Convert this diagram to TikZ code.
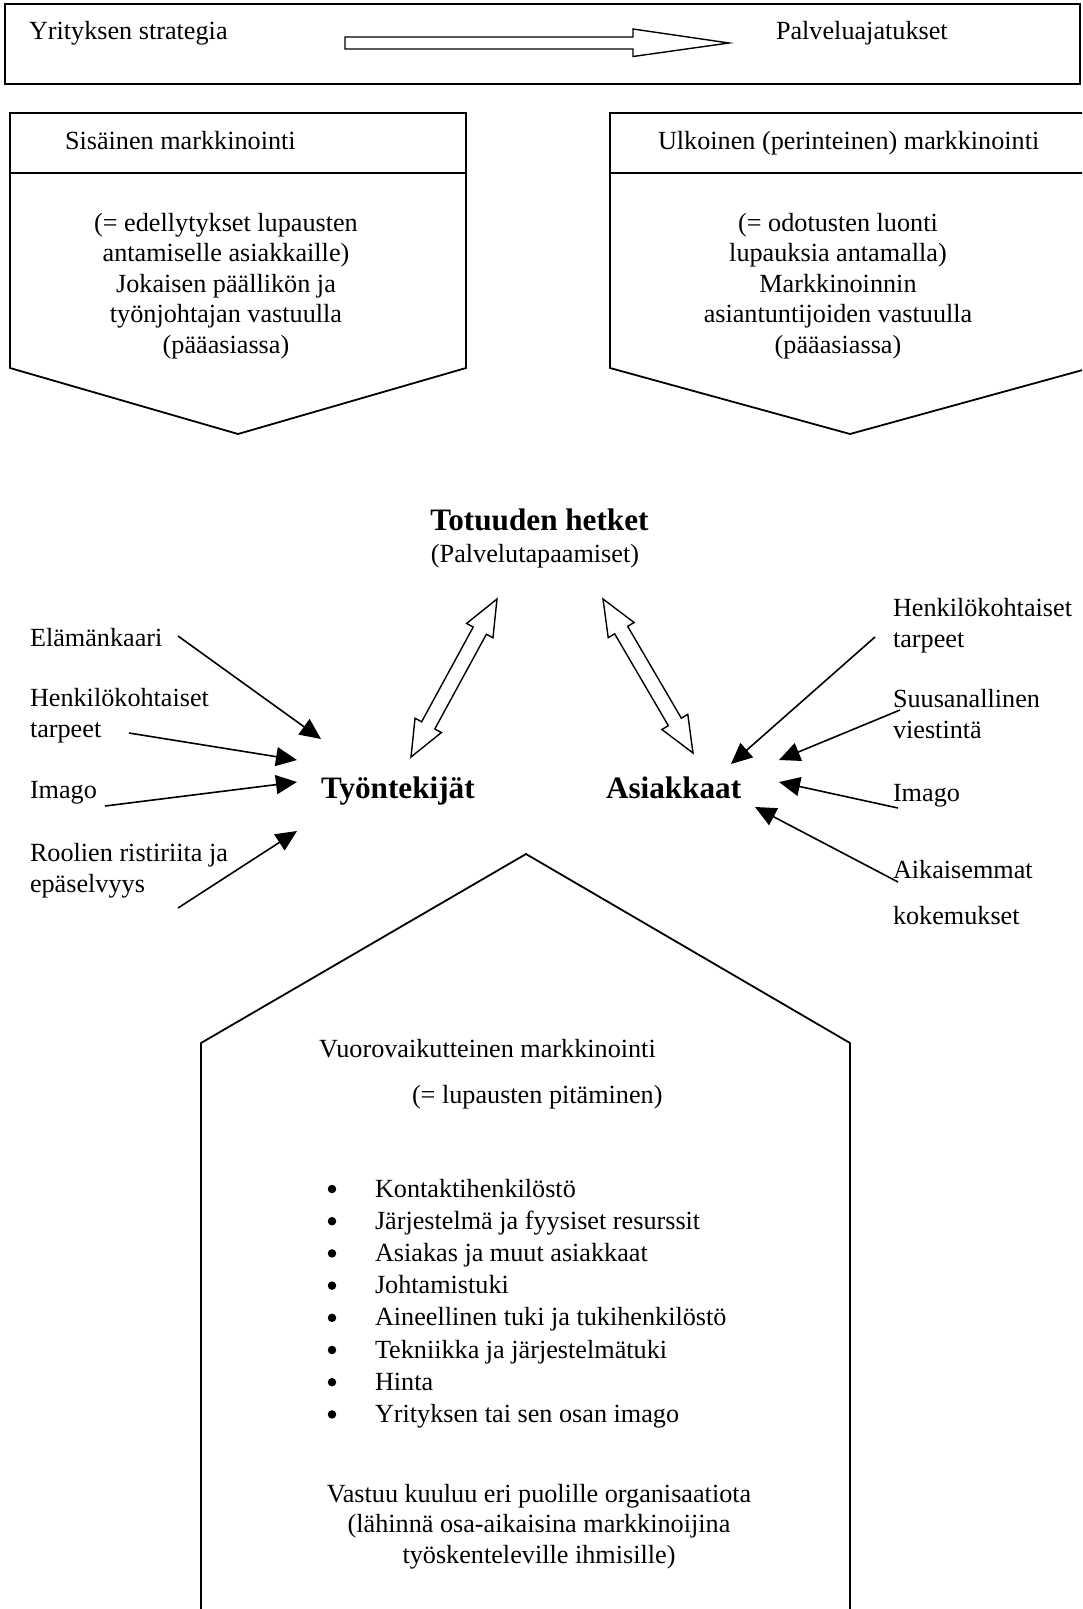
\documentclass[tikz,border=0pt]{standalone}
\usepackage{fontspec}
\setmainfont{Liberation Serif}
\usetikzlibrary{calc,arrows.meta}
\newcommand\txtfont{\fontsize{26.2}{30.5}\selectfont}
\newcommand\bldfont{\fontsize{31.2}{36}\selectfont\bfseries}
\newcommand\dblarr[2]{%
  \draw[hollow] (#1)
  -- ($(#1)!36pt!(#2)!15pt!90:(#2)$)
  -- ($(#1)!36pt!(#2)!7.5pt!90:(#2)$)
  -- ($(#2)!36pt!(#1)!7.5pt!-90:(#1)$)
  -- ($(#2)!36pt!(#1)!15pt!-90:(#1)$)
  -- (#2)
  -- ($(#2)!36pt!(#1)!15pt!90:(#1)$)
  -- ($(#2)!36pt!(#1)!7.5pt!90:(#1)$)
  -- ($(#1)!36pt!(#2)!7.5pt!-90:(#2)$)
  -- ($(#1)!36pt!(#2)!15pt!-90:(#2)$)
  -- cycle;}
\begin{document}
\begin{tikzpicture}[x=1pt,y=-1pt,line join=miter,
  every node/.style={font=\txtfont,inner sep=0pt,outer sep=0pt},
  lbl/.style={anchor=base west},
  ctr/.style={anchor=base,align=center},
  boxline/.style={line width=1.8pt},
  arr/.style={line width=1.6pt,-{Triangle[length=21pt,width=19pt]}},
  hollow/.style={line width=1.4pt,fill=white},
  bulletdot/.style={circle,fill=black,minimum size=8.5pt}]
\clip (0,0) rectangle (1082,1609);
\fill[white] (0,0) rectangle (1082,1609);

% top box
\draw[boxline] (5,4) rectangle (1080,84);
\node[lbl] (strat) at (29,39) {Yrityksen strategia};
\node[lbl] (palv) at (776,39) {Palveluajatukset};
\coordinate (ta) at (345,43);
\coordinate (tb) at (729,43);
\draw[hollow] ($(ta)+(0,-6)$) -- ($(tb)+(-96,-6)$) -- ($(tb)+(-96,-14)$) -- (tb)
  -- ($(tb)+(-96,13.5)$) -- ($(tb)+(-96,6)$) -- ($(ta)+(0,6)$) -- cycle;

% left box
\draw[boxline] (10,113) -- (466,113) -- (466,368) -- (238,434) -- (10,368) -- cycle;
\draw[boxline] (10,173) -- (466,173);
\node[lbl] (sis) at (65,149) {Sisäinen markkinointi};
\node[ctr] (sisb) at (226,353) {(= edellytykset lupausten\\antamiselle asiakkaille)\\Jokaisen päällikön ja\\työnjohtajan vastuulla\\(pääasiassa)};

% right box
\draw[boxline] (610,113) -- (1090,113) -- (1090,368) -- (850,434) -- (610,368) -- cycle;
\draw[boxline] (610,173) -- (1090,173);
\node[lbl] (ulk) at (658,149) {Ulkoinen (perinteinen) markkinointi};
\node[ctr] (ulkb) at (838,353) {(= odotusten luonti\\lupauksia antamalla)\\Markkinoinnin\\asiantuntijoiden vastuulla\\(pääasiassa)};

% centre
\node[anchor=base,font=\bldfont] (tot) at (539.5,530) {Totuuden hetket};
\node[anchor=base] (palvt) at (535,562) {(Palvelutapaamiset)};
\node[lbl,font=\bldfont] (tyo) at (321,798) {Työntekijät};
\node[lbl,font=\bldfont] (asi) at (606,798) {Asiakkaat};

\coordinate (d1a) at (411,757);
\coordinate (d1b) at (497,599);
\coordinate (d2a) at (603,599);
\coordinate (d2b) at (693,753);
\dblarr{d1a}{d1b}
\dblarr{d2a}{d2b}

% left labels
\node[lbl] (l1) at (30,646) {Elämänkaari};
\node[lbl,align=left] (l2) at (30,737) {Henkilökohtaiset\\tarpeet};
\node[lbl] (l3) at (30,798) {Imago};
\node[lbl,align=left] (l4) at (30,892) {Roolien ristiriita ja\\epäselvyys};

% right labels
\node[lbl,align=left] (r1) at (893,647) {Henkilökohtaiset\\tarpeet};
\node[lbl,align=left] (r2) at (893,738) {Suusanallinen\\viestintä};
\node[lbl] (r3) at (893,801) {Imago};
\node[lbl] (r4) at (893,878) {Aikaisemmat};
\node[lbl] (r5) at (893,924) {kokemukset};

% arrows
\coordinate (a1s) at (178,636); \coordinate (a1t) at (321,739);
\coordinate (a2s) at (129,733); \coordinate (a2t) at (297,760);
\coordinate (a3s) at (105,806); \coordinate (a3t) at (297,782);
\coordinate (a4s) at (178,908); \coordinate (a4t) at (297,831);
\coordinate (b1s) at (875,637); \coordinate (b1t) at (731,764);
\coordinate (b2s) at (900,710); \coordinate (b2t) at (779,760);
\coordinate (b3s) at (898,808); \coordinate (b3t) at (779,782);
\coordinate (b4s) at (898,882); \coordinate (b4t) at (755,807);
\foreach \p in {a1,a2,a3,a4,b1,b2,b3,b4} {\draw[arr] (\p s) -- (\p t);}

% bottom pentagon
\draw[boxline] (201,1630) -- (201,1043) -- (526,854) -- (850,1043) -- (850,1630);
\node[lbl] (vuo) at (319,1057) {Vuorovaikutteinen markkinointi};
\node[lbl] (lup) at (412,1103) {(= lupausten pitäminen)};
\foreach \t [count=\i from 0] in {Kontaktihenkilöstö,Järjestelmä ja fyysiset resurssit,Asiakas ja muut asiakkaat,Johtamistuki,Aineellinen tuki ja tukihenkilöstö,Tekniikka ja järjestelmätuki,Hinta,Yrityksen tai sen osan imago} {
  \node[bulletdot] (bu\i) at (332,{1197+32.2*\i-8}) {};
  \node[lbl] (bt\i) at (375,{1197+32.2*\i}) {\t};
}
\node[ctr] (vast) at (539,1563) {Vastuu kuuluu eri puolille organisaatiota\\(lähinnä osa-aikaisina markkinoijina\\työskenteleville ihmisille)};
\end{tikzpicture}
\end{document}
